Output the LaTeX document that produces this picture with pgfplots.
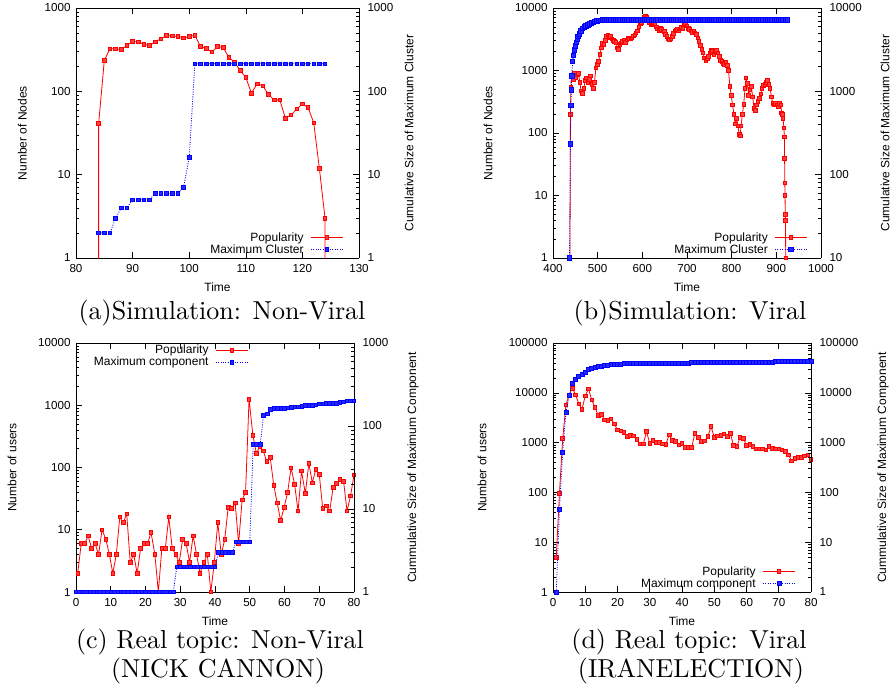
\documentclass[border=0pt]{standalone}
\usepackage{fontspec}
\newfontfamily\arial{Liberation Sans}
\usepackage{pgfplots}
\pgfplotsset{compat=1.18}

\definecolor{gpred}{RGB}{255,0,0}
\definecolor{gpblue}{RGB}{0,0,255}
\newcommand\gpfont{\arial\fontsize{12}{13}\selectfont}
\newcommand\gptick{\arial\fontsize{11.6}{13}\selectfont}

\pgfplotsset{
  gp/.style={
    scale only axis, font=\gpfont,
    tick label style={font=\gptick},
    /pgf/number format/assume math mode=true,
    /pgf/number format/1000 sep={},
    tick align=inside, major tick length=6pt, minor tick length=3pt,
    axis line style={line width=0.8pt},
    every tick/.style={black, line width=0.6pt},
  },
  gpleft/.style={gp, axis y line*=left,
    yticklabel style={xshift=-2pt},
    xticklabel style={yshift=-2.5pt},
    xlabel style={at={(axis description cs:0.5,-0.116)}, anchor=center}},
  gpright/.style={gp, axis y line*=right, axis x line=none,
    yticklabel style={xshift=5pt}},
  pop/.style={gpred, line width=0.8pt, mark=square*, mark size=1.8pt,
    mark options={solid, fill=gpred!75, draw=gpred}},
  clu/.style={gpblue, line width=0.8pt, dash pattern=on 1pt off 1.4pt,
    mark=square*, mark size=1.8pt, mark options={solid, fill=gpblue!85, draw=gpblue}},
  gplegend/.style={legend plot pos=right, legend cell align=right,
    legend style={draw=none, fill=none, font=\gpfont, inner sep=0pt,
      row sep=0pt, column sep=6pt, nodes={inner sep=0.8pt}},
    legend image code/.code={\draw[mark repeat=2,mark phase=2,##1]
      plot coordinates {(0pt,0pt) (16pt,0pt) (32pt,0pt)};}},
}

\begin{document}
\begin{tikzpicture}

% ---------- (a) ----------
\begin{axis}[ymode=log, gpleft, at={(76pt,-8pt)}, anchor=north west, width=283pt, height=250pt,
  xmin=80, xmax=130, xtick={80,90,...,130},
  ymin=1, ymax=1000, ytick={1,10,100,1000}, yticklabels={1,10,100,1000},
  minor ytick={2,3,...,9,20,30,...,90,200,300,...,900},
  xlabel={Time}, ylabel={Number of Nodes},
  ylabel style={at={(axis description cs:-0.19,0.5)}, anchor=center}]
\addplot[pop] coordinates {
(84,0.5) (84,41) (85,235) (86,324) (87,324) (88,319) (89,356) (90,397) (91,391)
(92,368) (93,356) (94,391) (95,428) (96,469) (97,461) (98,457) (99,436) (100,453)
(101,470) (102,346) (103,327) (104,296) (105,344) (106,337) (107,255) (108,224)
(109,178) (110,147) (111,95) (112,123) (113,116) (114,92) (115,79) (116,79)
(117,47.5) (118,52) (119,61.5) (120,70.6) (121,63.8) (122,42) (123,11.9) (124,3)
(124,0.5)};
\end{axis}
\begin{axis}[ymode=log, gpright, gplegend, at={(76pt,-8pt)}, anchor=north west, width=283pt, height=250pt,
  xmin=80, xmax=130,
  ymin=1, ymax=1000, ytick={1,10,100,1000}, yticklabels={1,10,100,1000},
  minor ytick={2,3,...,9,20,30,...,90,200,300,...,900},
  ylabel={Cumulative Size of Maximum Cluster},
  ylabel style={at={(axis description cs:1.177,0.5)}, anchor=center},
  legend style={at={(0.945,0.01)}, anchor=south east}]
\addlegendimage{pop}\addlegendentry{Popularity}
\addplot[clu] coordinates {
(84,2) (85,2) (86,2) (87,3) (88,4) (89,4) (90,5) (91,5) (92,5) (93,5) (94,6)
(95,6) (96,6) (97,6) (98,6) (99,7) (100,16) (101,214) (102,214) (103,214)
(104,214) (105,214) (106,214) (107,214) (108,214) (109,214) (110,214) (111,214)
(112,214) (113,214) (114,214) (115,214) (116,214) (117,214) (118,214) (119,214)
(120,214) (121,214) (122,214) (123,214) (124,214)};
\addlegendentry{Maximum Cluster}
\end{axis}

% ---------- (b) ----------
\begin{axis}[ymode=log, gpleft, at={(553pt,-8pt)}, anchor=north west, width=268pt, height=250pt,
  xmin=400, xmax=1000, xtick={400,500,...,1000},
  ymin=1, ymax=10000, ytick={1,10,100,1000,10000}, yticklabels={1,10,100,1000,10000},
  minor ytick={2,3,...,9,20,30,...,90,200,300,...,900,2000,3000,...,9000},
  xlabel={Time}, ylabel={Number of Nodes},
  ylabel style={at={(axis description cs:-0.2425,0.5)}, anchor=center}]
\addplot[pop] coordinates {
(438,1) (439,200) (440,550) (441,790) (443,850) (445,720) (448,900) (451,760)
(454,850) (457,900) (460,640) (463,470) (466,430) (469,520) (472,700) (475,760)
(478,640) (481,720) (484,820) (487,600) (490,520) (493,640) (496,1100) (499,1250)
(502,1400) (505,1800) (508,2300) (511,2700) (514,2600) (517,3000) (520,3500)
(523,3700) (526,3400) (529,3500) (532,3200) (535,3000) (538,2900) (541,2800)
(544,2300) (547,2200) (550,2600) (553,2750) (556,2900) (559,3000) (562,2800)
(565,3100) (568,3300) (571,3200) (574,3200) (577,3300) (580,3600) (583,3700)
(586,4000) (589,4300) (592,5000) (595,5600) (598,5800) (601,6300) (604,7000)
(607,7300) (610,7000) (613,6400) (616,5800) (619,5400) (622,5600) (625,5900)
(628,5500) (631,5000) (634,4600) (637,4400) (640,4700) (643,4500) (646,4300)
(649,4200) (652,3800) (655,3500) (658,3200) (661,3100) (664,3200) (667,3500)
(670,3900) (673,4300) (676,4400) (679,4500) (682,4300) (685,4600) (688,4900)
(691,4700) (694,5400) (697,5600) (700,5200) (703,4700) (706,4500) (709,4300)
(712,4100) (715,4300) (718,4000) (721,3800) (724,3300) (727,2900) (730,2500)
(733,2200) (736,1900) (739,1600) (742,1450) (745,1550) (748,1700) (751,1900)
(754,2100) (757,2000) (760,1800) (763,2000) (766,2100) (769,1900) (772,1700)
(775,1450) (778,1400) (781,1300) (784,1250) (787,1350) (790,1200) (793,1000)
(796,560) (799,400) (802,280) (805,200) (808,140) (811,170) (814,130) (817,95)
(819,90) (821,130) (824,200) (827,290) (830,520) (832,760) (835,620) (838,400)
(841,500) (844,560) (847,380) (850,250) (853,230) (856,280) (859,320) (862,360)
(865,420) (868,520) (871,580) (874,600) (877,640) (880,700) (883,600) (886,520)
(889,380) (892,300) (895,280) (898,300) (901,280) (904,260) (907,300) (910,280)
(912,210) (914,200) (915,170) (917,120) (918,87) (918.5,39) (919,16) (919.5,10)
(920,5) (920.5,4) (921,1)};
\end{axis}
\begin{axis}[ymode=log, gpright, gplegend, at={(553pt,-8pt)}, anchor=north west, width=268pt, height=250pt,
  xmin=400, xmax=1000,
  ymin=10, ymax=10000, ytick={10,100,1000,10000}, yticklabels={10,100,1000,10000},
  minor ytick={20,30,...,90,200,300,...,900,2000,3000,...,9000},
  ylabel={Cumulative Size of Maximum Cluster},
  ylabel style={at={(axis description cs:1.239,0.5)}, anchor=center},
  legend style={at={(0.95,0.01)}, anchor=south east}]
\addlegendimage{pop}\addlegendentry{Popularity}
\addplot[clu, mark size=2.2pt] coordinates {
(437,10) (439,233) (440,673) (441,1040) (442,1530) (444,2270) (446,2700) (448,3130)
(450,3500) (452,3850) (454,4200) (456,4530) (459,4900) (462,5300) (466,5650)
(470,5900) (474,6100) (478,6250) (482,6450) (486,6600) (490,6750) (494,6880)
(498,7000) (502,7100) (506,7150) (510,7200) (515,7200) (520,7200) (525,7200)
(530,7200) (535,7200) (540,7200) (545,7200) (550,7200) (555,7200) (560,7200)
(565,7200) (570,7200) (575,7200) (580,7200) (585,7200) (590,7200) (595,7200)
(600,7200) (605,7200) (610,7200) (615,7200) (620,7200) (625,7200) (630,7200)
(635,7200) (640,7200) (645,7200) (650,7200) (655,7200) (660,7200) (665,7200)
(670,7200) (675,7200) (680,7200) (685,7200) (690,7200) (695,7200) (700,7200)
(705,7200) (710,7200) (715,7200) (720,7200) (725,7200) (730,7200) (735,7200)
(740,7200) (745,7200) (750,7200) (755,7200) (760,7200) (765,7200) (770,7200)
(775,7200) (780,7200) (785,7200) (790,7200) (795,7200) (800,7200) (805,7200)
(810,7200) (815,7200) (820,7200) (825,7200) (830,7200) (835,7200) (840,7200)
(845,7200) (850,7200) (855,7200) (860,7200) (865,7200) (870,7200) (875,7200)
(880,7200) (885,7200) (890,7200) (895,7200) (900,7200) (905,7200) (910,7200)
(915,7200) (920,7200) (925,7200)};
\addlegendentry{Maximum Cluster}
\end{axis}

% ---------- (c) ----------
\begin{axis}[ymode=log, gpleft, at={(76pt,-343pt)}, anchor=north west, width=278pt, height=249pt,
  xmin=0, xmax=80, xtick={0,10,...,80},
  ymin=1, ymax=10000, ytick={1,10,100,1000,10000}, yticklabels={1,10,100,1000,10000},
  minor ytick={2,3,...,9,20,30,...,90,200,300,...,900,2000,3000,...,9000},
  xlabel={Time}, ylabel={Number of users},
  ylabel style={at={(axis description cs:-0.23,0.5)}, anchor=center}]
\addplot[pop] coordinates {
(0.5,2) (1.5,6) (2.5,6) (3.5,8) (4.5,5) (5.5,6) (6.5,4) (7.5,10) (8.6,7) (9.6,4)
(10.6,2) (11.6,4) (12.6,16) (13.6,13) (14.6,18) (15.6,3) (16.6,4) (17.6,2)
(18.6,5) (19.6,6) (20.6,6) (21.6,9) (22.7,4) (23.7,1) (24.7,5) (25.7,5) (26.7,16)
(27.7,5) (28.7,4) (29.7,3) (30.7,7) (31.7,6) (32.7,3) (33.7,8) (34.7,4) (35.7,2)
(36.8,3) (37.8,4) (38.8,1) (39.8,3) (40.8,13) (41.8,4) (42.8,7) (43.8,23)
(44.8,22) (45.8,27) (46.8,6) (47.8,30) (48.8,40) (49.8,1250) (50.9,330)
(51.9,169) (52.9,220) (53.9,185) (54.9,124) (55.9,144) (56.9,52) (57.9,27)
(58.9,14) (59.9,23) (60.9,40) (61.9,99) (62.9,54) (63.9,20) (64.9,88) (66,38)
(67,117) (68,57) (69,93) (70,78) (71,22) (72,24) (73,20) (74,48) (75,56) (76,65)
(77,60) (78,20) (79,35) (80,76)};
\end{axis}
\begin{axis}[ymode=log, gpright, gplegend, at={(76pt,-343pt)}, anchor=north west, width=278pt, height=249pt,
  xmin=0, xmax=80,
  ymin=1, ymax=1000, ytick={1,10,100,1000}, yticklabels={1,10,100,1000},
  minor ytick={2,3,...,9,20,30,...,90,200,300,...,900},
  ylabel={Cummulative Size of Maximum Component},
  ylabel style={at={(axis description cs:1.212,0.5)}, anchor=center},
  legend style={at={(0.62,0.995)}, anchor=north east}]
\addlegendimage{pop}\addlegendentry{Popularity}
\addplot[clu] coordinates {
(0,1) (1,1) (2,1) (3,1) (4,1) (5,1) (6,1) (7,1) (8,1) (9,1) (10,1) (11,1) (12,1)
(13,1) (14,1) (15,1) (16,1) (17,1) (18,1) (19,1) (20,1) (21,1) (22,1) (23,1)
(24,1) (25,1) (26,1) (27,1) (28,1) (29,2) (30,2) (31,2) (32,2) (33,2) (34,2)
(35,2) (36,2) (37,2) (38,2) (39,2) (40,2) (41,3) (42,3) (43,3) (44,3) (45,3)
(46,4) (47,4) (48,4) (49,4) (50,4) (51,60) (52,60) (53,60) (54,135) (55,140)
(56,158) (57,162) (58,163) (59,163) (60,164) (61,165) (62,168) (63,170) (64,170)
(65,172) (66,176) (67,177) (68,178) (69,180) (70,184) (71,185) (72,186) (73,186)
(74,187) (75,188) (76,192) (77,195) (78,200) (79,200) (80,200)};
\addlegendentry{Maximum component}
\end{axis}

% ---------- (d) ----------
\begin{axis}[ymode=log, gpleft, at={(553pt,-343pt)}, anchor=north west, width=258pt, height=249pt,
  xmin=0, xmax=80, xtick={0,10,...,80},
  ymin=1, ymax=100000, ytick={1,10,100,1000,10000,100000},
  yticklabels={1,10,100,1000,10000,100000},
  minor ytick={2,3,...,9,20,30,...,90,200,300,...,900,2000,3000,...,9000,
    20000,30000,40000,50000,60000,70000,80000,90000},
  xlabel={Time}, ylabel={Number of users},
  ylabel style={at={(axis description cs:-0.275,0.5)}, anchor=center}]
\addplot[pop] coordinates {
(1,5) (2,95) (3,1200) (4,5700) (5,9100) (6,12400) (7,9100) (8,6000) (9,4700)
(10,8700) (11,12000) (12,7200) (13,5100) (14,3500) (15,3700) (16,2860) (17,2800)
(18,3000) (19,2380) (20,1800) (21,1720) (22,1610) (23,1320) (24,1380) (25,1360)
(26,1170) (27,940) (28,940) (29,1660) (30,960) (31,1120) (32,1015) (33,1015)
(34,940) (35,930) (36,1430) (37,1120) (38,1050) (39,900) (40,960) (41,805)
(42,805) (43,805) (44,1540) (45,1280) (46,1050) (47,1090) (48,1320) (49,2100)
(50,1280) (51,1360) (52,1380) (53,1500) (54,1320) (55,1540) (56,870) (57,830)
(58,1280) (59,1230) (60,870) (61,930) (62,830) (63,745) (64,745) (65,745)
(66,710) (67,830) (68,770) (69,745) (70,745) (71,710) (72,660) (73,565) (74,430)
(75,485) (76,500) (77,505) (78,540) (79,565) (80,460)};
\end{axis}
\begin{axis}[ymode=log, gpright, gplegend, at={(553pt,-343pt)}, anchor=north west, width=258pt, height=249pt,
  xmin=0, xmax=80,
  ymin=1, ymax=100000, ytick={1,10,100,1000,10000,100000},
  yticklabels={1,10,100,1000,10000,100000},
  minor ytick={2,3,...,9,20,30,...,90,200,300,...,900,2000,3000,...,9000,
    20000,30000,40000,50000,60000,70000,80000,90000},
  ylabel={Cummulative Size of Maximum Component},
  ylabel style={at={(axis description cs:1.279,0.5)}, anchor=center},
  legend style={at={(0.94,0.01)}, anchor=south east}]
\addlegendimage{pop}\addlegendentry{Popularity}
\addplot[clu, mark size=2pt] coordinates {
(1,1) (2,46) (3,650) (4,4000) (5,8800) (6,15200) (7,18800) (8,21300) (9,23000)
(10,26000) (11,29000) (12,30800) (13,32300) (14,33500) (15,34500) (16,35400)
(17,36100) (18,36700) (19,37300) (20,37800) (21,37900) (22,38100) (23,38200)
(24,38300) (25,38400) (26,38500) (27,38600) (28,38700) (29,38800) (30,38900)
(31,39000) (32,39100) (33,39100) (34,39200) (35,39300) (36,39400) (37,39400)
(38,39500) (39,39600) (40,39700) (41,39800) (42,39800) (43,39900) (44,40000)
(45,40100) (46,40100) (47,40200) (48,40300) (49,40400) (50,40500) (51,40600)
(52,40600) (53,40700) (54,40800) (55,40800) (56,40900) (57,41000) (58,41100)
(59,41100) (60,41200) (61,41300) (62,41300) (63,41400) (64,41500) (65,41500)
(66,41600) (67,41700) (68,41700) (69,41800) (70,41900) (71,42000) (72,42000)
(73,42100) (74,42200) (75,42300) (76,42300) (77,42400) (78,42500) (79,42600)
(80,42700)};
\addlegendentry{Maximum component}
\end{axis}

% ---------- captions ----------
\node[anchor=base, scale=2.6] at (222pt,-319pt) {(a)Simulation: Non-Viral};
\node[anchor=base, scale=2.6] at (690pt,-319pt) {(b)Simulation: Viral};
\node[anchor=base, scale=2.6] at (220pt,-648pt) {(c) Real topic: Non-Viral};
\node[anchor=base, scale=2.6] at (218pt,-677pt) {(NICK CANNON)};
\node[anchor=base, scale=2.6] at (689pt,-648pt) {(d) Real topic: Viral};
\node[anchor=base, scale=2.6] at (691pt,-677pt) {(IRANELECTION)};

\pgfresetboundingbox
\useasboundingbox (0,0) rectangle (891pt,-693pt);
\end{tikzpicture}
\end{document}
